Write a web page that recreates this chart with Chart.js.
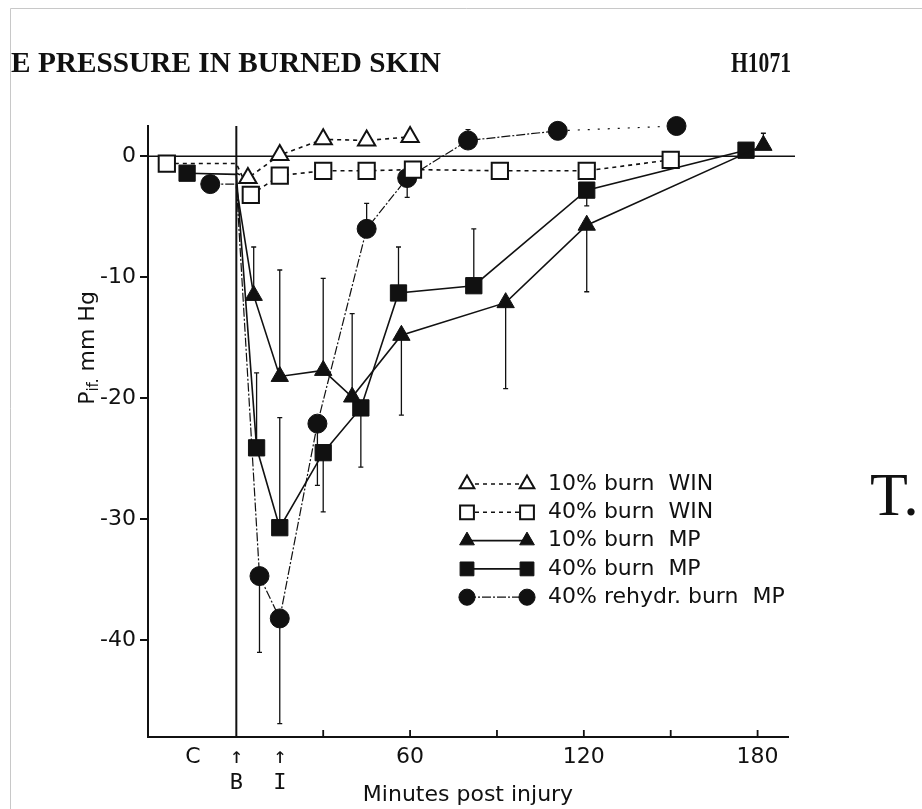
<!DOCTYPE html>
<html>
<head>
<meta charset="utf-8">
<title>Interstitial fluid pressure in burned skin</title>
<script src="https://cdn.jsdelivr.net/npm/chart.js@4.4.1/dist/chart.umd.min.js"></script>
<style>
  html, body { margin: 0; padding: 0; background: #fff; }
  #wrap { width: 922px; height: 809px; }
</style>
</head>
<body>
<div id="wrap"><canvas id="pifChart" width="922" height="809"></canvas></div>
<script>
// Minutes post injury (B = burn at 0, I = 15 min), P_if in mm Hg
const winTriTimes = [0, 4, 15, 30, 45, 60];
const winTriValues = [-1.4, -1.8, 0.1, 1.4, 1.3, 1.6];

const winSqTimes = [-24, 0, 5, 15, 30, 45, 61, 91, 121, 150];
const winSqValues = [-0.6, -0.6, -3.2, -1.6, -1.2, -1.2, -1.1, -1.2, -1.2, -0.3];

const mpTriTimes = [0, 6, 15, 30, 40, 57, 93, 121, 182];
const mpTriValues = [-2.5, -11.5, -18.2, -17.7, -19.9, -14.8, -12.1, -5.7, 0.9];
const mpTriErrors = [null, -7.5, -9.4, -10.1, -13.0, -21.4, -19.2, -11.2, 1.9];

const mpSqTimes = [-17, 0, 7, 15, 30, 43, 56, 82, 121, 176];
const mpSqValues = [-1.4, -1.5, -24.1, -30.7, -24.5, -20.8, -11.3, -10.7, -2.8, 0.5];
const mpSqErrors = [null, null, -17.9, -21.6, -29.4, -25.7, -7.5, -6.0, -4.1, null];

const rehydTimes = [-9, 0, 8, 15, 28, 45, 59, 80, 111, 152];
const rehydValues = [-2.3, -2.3, -34.7, -38.2, -22.1, -6.0, -1.8, 1.3, 2.1, 2.5];
const rehydErrors = [null, null, -41.0, -46.9, -27.2, -3.9, -3.4, 2.2, null, null];

const seriesLabels = ['10% burn  WIN', '40% burn  WIN', '10% burn  MP', '40% burn  MP', '40% rehydr. burn  MP'];

const xTickValues = [-15, 0, 15, 30, 60, 90, 120, 150, 180];
const xTickLabels = ['C', ['\u2191', 'B'], ['\u2191', 'I'], '', '60', '', '120', '', '180'];
const xTickMarks = [30, 60, 90, 120, 150, 180];
const yTickValues = [-40, -30, -20, -10, 0];

const INK = '#111';
const SANS = '"DejaVu Sans", sans-serif';
const MONO = '"DejaVu Sans Mono", monospace';

function pts(times, values) {
  return times.map((t, i) => ({ x: t, y: values[i] }));
}
// the burn instant itself carries no marker
const hideAtBurn = r => ctx => (ctx.raw && ctx.raw.x === 0 ? 0 : r);

function series(i, times, values, errors, shape, radius, open, lineStyle) {
  return Object.assign({
    label: seriesLabels[i],
    data: pts(times, values),
    errorBars: errors,
    borderColor: INK,
    borderWidth: 1.6,
    pointStyle: shape,
    pointRadius: hideAtBurn(radius),
    legendRadius: radius,
    pointBackgroundColor: open ? '#fff' : INK,
    pointBorderColor: INK,
    pointBorderWidth: open ? 2 : 1,
    showLine: true,
    tension: 0,
    clip: false
  }, lineStyle);
}

const datasets = [
  series(0, winTriTimes, winTriValues, null, 'triangle', 10, true, { borderDash: [4, 4] }),
  series(1, winSqTimes, winSqValues, null, 'rect', 11.5, true, { borderDash: [4, 4] }),
  series(2, mpTriTimes, mpTriValues, mpTriErrors, 'triangle', 10, false, {}),
  series(3, mpSqTimes, mpSqValues, mpSqErrors, 'rect', 11.5, false, {}),
  series(4, rehydTimes, rehydValues, rehydErrors, 'circle', 9.5, false, {
    borderWidth: 1.2,
    borderDash: [9, 2, 2, 2],
    segment: { borderDash: s => (s.p0.parsed.x >= 100 ? [2, 8] : undefined) }
  })
];

function fitText(ctx, text, x, y, width, font) {
  ctx.save();
  ctx.font = font;
  const w = ctx.measureText(text).width;
  ctx.translate(x, y);
  ctx.scale(width / w, 1);
  ctx.fillText(text, 0, 0);
  ctx.restore();
}

function drawMarker(ctx, shape, x, y, r, fill) {
  ctx.beginPath();
  if (shape === 'triangle') {
    ctx.moveTo(x, y - r);
    ctx.lineTo(x + 0.866 * r, y + 0.5 * r);
    ctx.lineTo(x - 0.866 * r, y + 0.5 * r);
    ctx.closePath();
  } else if (shape === 'rect') {
    const s = r * Math.SQRT1_2;
    ctx.rect(x - s, y - s, 2 * s, 2 * s);
  } else {
    ctx.arc(x, y, r, 0, Math.PI * 2);
  }
  ctx.fillStyle = fill;
  ctx.fill();
  ctx.stroke();
}

// page frame, running head and the cut-off letter of the neighbouring column
const pagePlugin = {
  id: 'page',
  beforeDraw(chart) {
    const ctx = chart.ctx;
    ctx.save();
    ctx.fillStyle = '#fff';
    ctx.fillRect(0, 0, chart.width, chart.height);
    ctx.strokeStyle = '#c8c8c8';
    ctx.lineWidth = 1;
    ctx.beginPath();
    ctx.moveTo(10.5, chart.height);
    ctx.lineTo(10.5, 8.5);
    ctx.lineTo(chart.width, 8.5);
    ctx.stroke();
    ctx.fillStyle = INK;
    ctx.textBaseline = 'alphabetic';
    fitText(ctx, 'E PRESSURE IN BURNED SKIN', 11, 72, 430, 'bold 29px "Liberation Serif"');
    fitText(ctx, 'H1071', 731, 72, 60, 'bold 29px "Liberation Serif"');
    ctx.font = '62px "Liberation Serif"';
    ctx.fillText('T.', 870, 515);
    ctx.restore();
  }
};

// zero line, burn line, inward ticks and one-sided SE bars
const guidesPlugin = {
  id: 'guides',
  beforeDatasetsDraw(chart) {
    const { ctx, chartArea: a, scales: { x, y } } = chart;
    ctx.save();
    ctx.strokeStyle = INK;
    ctx.lineWidth = 1.5;
    const y0 = y.getPixelForValue(0);
    ctx.beginPath();
    ctx.moveTo(a.left, y0);
    ctx.lineTo(a.right + 7, y0);
    ctx.stroke();

    ctx.lineWidth = 2;
    const xb = x.getPixelForValue(0);
    ctx.beginPath();
    ctx.moveTo(xb, a.top);
    ctx.lineTo(xb, a.bottom);
    ctx.stroke();

    ctx.lineWidth = 1.8;
    xTickMarks.forEach(v => {
      const px = x.getPixelForValue(v);
      ctx.beginPath();
      ctx.moveTo(px, a.bottom);
      ctx.lineTo(px, a.bottom - 7);
      ctx.stroke();
    });

    ctx.lineWidth = 1.3;
    chart.data.datasets.forEach(ds => {
      if (!ds.errorBars) return;
      ds.data.forEach((p, i) => {
        const e = ds.errorBars[i];
        if (e === null) return;
        const px = x.getPixelForValue(p.x);
        const py = y.getPixelForValue(p.y);
        const pe = y.getPixelForValue(e);
        ctx.beginPath();
        ctx.moveTo(px, py);
        ctx.lineTo(px, pe);
        ctx.moveTo(px - 2.5, pe);
        ctx.lineTo(px + 2.5, pe);
        ctx.stroke();
      });
    });
    ctx.restore();
  }
};

// legend with marker-line-marker samples, plus axis titles
const labelsPlugin = {
  id: 'labels',
  afterDraw(chart) {
    const ctx = chart.ctx;
    const a = chart.chartArea;
    ctx.save();
    ctx.strokeStyle = INK;
    ctx.fillStyle = INK;
    chart.data.datasets.forEach((ds, i) => {
      const ly = 484 + i * 28.3;
      ctx.lineWidth = ds.borderWidth;
      ctx.setLineDash(ds.borderDash || []);
      ctx.beginPath();
      ctx.moveTo(467, ly);
      ctx.lineTo(527, ly);
      ctx.stroke();
      ctx.setLineDash([]);
      ctx.lineWidth = ds.pointBorderWidth;
      drawMarker(ctx, ds.pointStyle, 467, ly, ds.legendRadius * 0.85, ds.pointBackgroundColor);
      drawMarker(ctx, ds.pointStyle, 527, ly, ds.legendRadius * 0.85, ds.pointBackgroundColor);
      ctx.fillStyle = INK;
      ctx.font = '22px ' + SANS;
      ctx.textBaseline = 'middle';
      ctx.textAlign = 'left';
      ctx.fillText(ds.label, 548, ly);
    });

    ctx.textAlign = 'center';
    ctx.textBaseline = 'middle';
    ctx.font = '22px ' + SANS;
    ctx.fillText('Minutes post injury', (a.left + a.right) / 2, 795);

    // P with subscript "if.", rotated
    ctx.translate(88, 348);
    ctx.rotate(-Math.PI / 2);
    ctx.textAlign = 'left';
    const big = '22px ' + SANS, small = '15px ' + SANS;
    ctx.font = big;
    const wP = ctx.measureText('P').width;
    const wRest = ctx.measureText(' mm Hg').width;
    ctx.font = small;
    const wSub = ctx.measureText('if.').width;
    let cx = -(wP + wSub + wRest) / 2;
    ctx.font = big;
    ctx.fillText('P', cx, 0);
    cx += wP;
    ctx.font = small;
    ctx.fillText('if.', cx, 6);
    cx += wSub;
    ctx.font = big;
    ctx.fillText(' mm Hg', cx, 0);
    ctx.restore();
  }
};

new Chart(document.getElementById('pifChart').getContext('2d'), {
  type: 'scatter',
  data: { datasets: datasets },
  plugins: [pagePlugin, guidesPlugin, labelsPlugin],
  options: {
    responsive: false,
    animation: false,
    devicePixelRatio: 1,
    events: [],
    layout: { padding: { top: 126, right: 134, left: 0, bottom: 0 } },
    plugins: { legend: { display: false }, tooltip: { enabled: false } },
    scales: {
      x: {
        type: 'linear',
        min: -30.5,
        max: 190.5,
        afterBuildTicks: s => { s.ticks = xTickValues.map(v => ({ value: v })); },
        afterFit: s => { s.height = 72; },
        grid: { display: false, drawTicks: false },
        border: { display: true, color: INK, width: 2 },
        ticks: {
          padding: 8,
          color: INK,
          autoSkip: false,
          maxRotation: 0,
          font: c => ({
            family: c.tick && (c.tick.value === 0 || c.tick.value === 15) ? MONO : SANS,
            size: 22,
            lineHeight: 1.15
          }),
          callback: v => xTickLabels[xTickValues.indexOf(v)]
        }
      },
      y: {
        type: 'linear',
        min: -48,
        max: 2.5,
        afterBuildTicks: s => { s.ticks = yTickValues.map(v => ({ value: v })); },
        afterFit: s => { s.width = 148; },
        grid: { drawOnChartArea: false, drawTicks: true, tickLength: 8, color: INK, lineWidth: 2 },
        border: { display: true, color: INK, width: 2 },
        ticks: { padding: 4, color: INK, font: { family: SANS, size: 22 } }
      }
    }
  }
});
</script>
</body>
</html>
